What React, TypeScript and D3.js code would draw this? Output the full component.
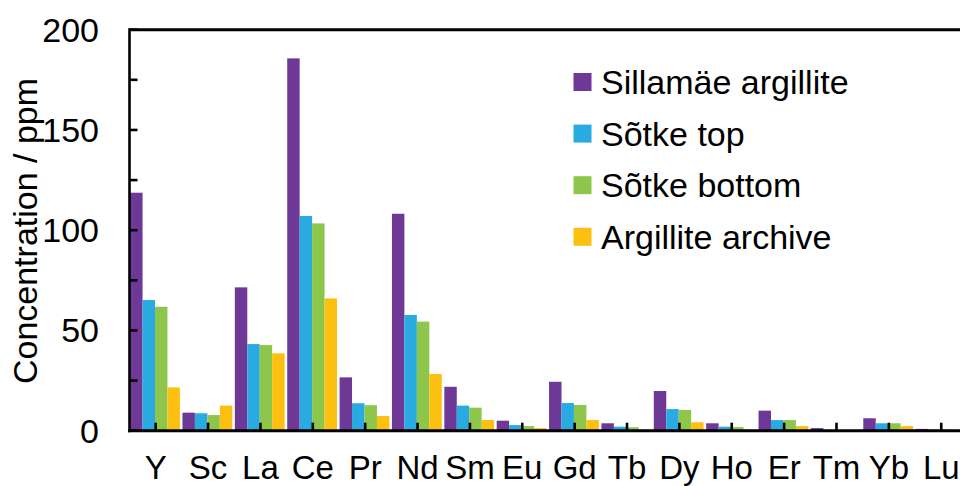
import React from "react";
import * as d3 from "d3";

const elements = ["Y", "Sc", "La", "Ce", "Pr", "Nd", "Sm", "Eu", "Gd", "Tb", "Dy", "Ho", "Er", "Tm", "Yb", "Lu"];

const seriesNames = ["Sillamäe argillite", "Sõtke top", "Sõtke bottom", "Argillite archive"];
const seriesColors = ["#6E3996", "#29ABE2", "#8DC64B", "#FCC010"];

const sillamae = [118.7, 9.0, 71.5, 185.7, 26.6, 108.2, 21.9, 5.0, 24.4, 3.7, 19.8, 3.7, 10.0, 1.3, 6.2, 0.9];
const sotkeTop = [65.2, 8.7, 43.2, 107.1, 13.7, 57.7, 12.5, 2.8, 13.8, 2.0, 10.8, 2.0, 5.3, 0.4, 3.7, 0.5];
const sotkeBottom = [61.8, 7.8, 42.7, 103.4, 12.7, 54.4, 11.5, 2.3, 12.8, 1.7, 10.3, 1.8, 5.3, 0.3, 3.7, 0.5];
const archive = [21.6, 12.5, 38.6, 66.0, 7.3, 28.3, 5.3, 1.3, 5.3, 0.5, 4.2, 0.6, 2.3, 0.2, 2.3, 0.3];

const yTicks = [0, 25, 50, 75, 100, 125, 150, 175, 200];
const yLabels = [0, 50, 100, 150, 200];

const FONT = "'Liberation Sans', Arial, sans-serif";

export default function App() {
  const W = 960;
  const H = 486;
  const left = 129.5;
  const top = 29.7;
  const bottom = 430.7;
  const step = 52.37;

  const x = d3.scaleBand<string>().domain(elements).range([left, left + step * elements.length]).paddingInner(0).paddingOuter(0);
  const xInner = d3.scaleBand<string>().domain(seriesNames).range([0.6, 50.4]).padding(0);
  const y = d3.scaleLinear().domain([0, 200]).range([bottom, top]);

  const series = [sillamae, sotkeTop, sotkeBottom, archive];

  return (
    <svg width={W} height={H} style={{ position: "absolute", left: 0, top: 0, background: "#fff" }} fontFamily={FONT}>
      {/* bars */}
      {series.map((vals, si) =>
        vals.map((v, i) => (
          <rect
            key={`${si}-${i}`}
            x={(x(elements[i]) as number) + (xInner(seriesNames[si]) as number)}
            y={y(v)}
            width={xInner.bandwidth()}
            height={bottom - y(v)}
            fill={seriesColors[si]}
          />
        ))
      )}

      {/* frame */}
      <line x1={left} x2={W} y1={top} y2={top} stroke="#000" strokeWidth={3} />
      <line x1={left} x2={left} y1={top - 1.5} y2={bottom + 1.5} stroke="#000" strokeWidth={2.6} />
      <line x1={left - 1.3} x2={W} y1={bottom} y2={bottom} stroke="#000" strokeWidth={3} />

      {/* y ticks (inward) */}
      {yTicks.map((t) => (
        <line key={`yt${t}`} x1={left} x2={left + 8} y1={y(t)} y2={y(t)} stroke="#000" strokeWidth={2.6} />
      ))}
      {yLabels.map((t) => (
        <text key={`yl${t}`} x={99} y={y(t)} dy="0.35em" textAnchor="end" fontSize={34} fill="#000">
          {t}
        </text>
      ))}

      {/* x ticks (inward) at category centres */}
      {elements.map((e) => {
        const cx = (x(e) as number) + x.bandwidth() / 2;
        return <line key={`xt${e}`} x1={cx} x2={cx} y1={bottom} y2={bottom - 8} stroke="#000" strokeWidth={2.6} />;
      })}
      {elements.map((e) => {
        const cx = (x(e) as number) + x.bandwidth() / 2;
        return (
          <text key={`xl${e}`} x={cx} y={478.5} textAnchor="middle" fontSize={33} fill="#000">
            {e}
          </text>
        );
      })}

      {/* y axis title */}
      <text transform={`translate(37, 231) rotate(-90)`} textAnchor="middle" fontSize={34} fill="#000">
        Concentration / ppm
      </text>

      {/* legend */}
      {seriesNames.map((name, i) => {
        const cy = 82 + i * 51.6;
        return (
          <g key={`lg${i}`}>
            <rect x={573.5} y={cy - 9} width={18} height={18} fill={seriesColors[i]} />
            <text x={601} y={cy} dy="0.35em" fontSize={34} fill="#000">
              {name}
            </text>
          </g>
        );
      })}
    </svg>
  );
}
